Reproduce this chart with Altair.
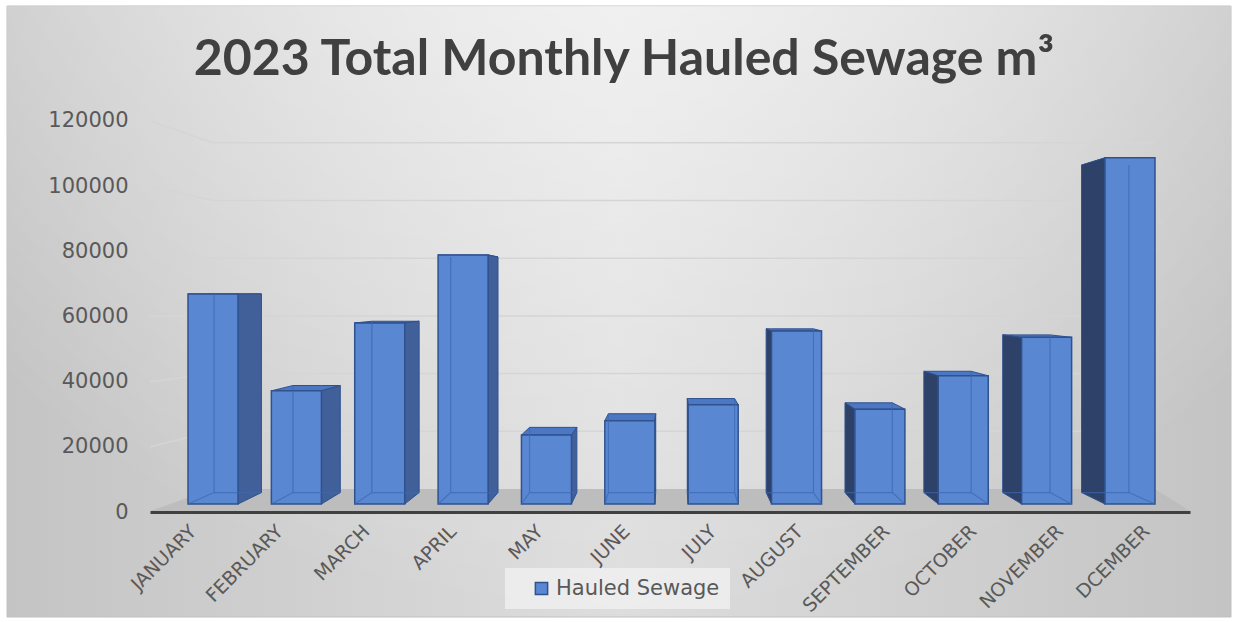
import altair as alt
import pandas as pd

# ---- chart data -------------------------------------------------------------
MONTHS = ["JANUARY", "FEBRUARY", "MARCH", "APRIL", "MAY", "JUNE", "JULY",
          "AUGUST", "SEPTEMBER", "OCTOBER", "NOVEMBER", "DCEMBER"]
VALUES = [65500, 35300, 56500, 77700, 21500, 26000, 31000,
          54000, 29600, 40000, 52000, 108000]
SERIES = "Hauled Sewage"
Y_TICKS = [0, 20000, 40000, 60000, 80000, 100000, 120000]
TITLE = "2023 Total Monthly Hauled Sewage m\u00b3"

# ---- layout -----------------------------------------------------------------
W, H = 1040, 412
PAD = {"left": 150, "top": 100, "right": 48, "bottom": 110}

X_DOMAIN = [-0.756, 11.72]          # month index scale (front faces centred on i)

BAR_UPP, BAR_ZERO = 312, 8          # m3 per pixel, lift of bar base above floor
BAR_DOMAIN = [-BAR_ZERO * BAR_UPP, (H - BAR_ZERO) * BAR_UPP]
AXIS_UPP = 306.9                    # value-axis labels on the front edge
AXIS_DOMAIN = [0, H * AXIS_UPP]
GRID_UPP, GRID_ZERO = 346.6, 23     # back wall
GRID_DOMAIN = [-GRID_ZERO * GRID_UPP, (H - GRID_ZERO) * GRID_UPP]

HALF = 0.3                          # half width of a column's front face
VP_X, VP_V, S = 5.5, 66144, 0.054   # vanishing point and depth factor

FRONT = "#5A87D2"
TOP = "#4C77C2"
SIDE_L = "#41609A"
SIDE_R = "#2D4169"
EDGE = "#2F528F"
TEXT = "#595959"
FONT = "DejaVu Sans"

# ---- 3-D column geometry derived from the values --------------------------
front_rows, side_rows, top_rows, edge_rows = [], [], [], []
for i, (m, v) in enumerate(zip(MONTHS, VALUES)):
    xl, xr = i - HALF, i + HALF
    bxl, bxr = xl + S * (VP_X - xl), xr + S * (VP_X - xr)
    bvt, bvb = v + S * (VP_V - v), S * VP_V
    front_rows.append({"month": m, "series": SERIES, "v": v, "xl": xl, "xr": xr})
    if i < VP_X:   # right-hand side visible
        side_rows += [{"month": m, "x": xr, "top": v, "bot": 0, "shade": SIDE_L},
                      {"month": m, "x": bxr, "top": bvt, "bot": bvb, "shade": SIDE_L}]
        top_rows += [{"month": m, "x": xl, "top": v, "bot": v},
                     {"month": m, "x": bxl, "top": bvt, "bot": v},
                     {"month": m, "x": xr, "top": bvt, "bot": v},
                     {"month": m, "x": bxr, "top": bvt, "bot": bvt}]
        hx, fx = bxl, xl
    else:          # left-hand side visible
        side_rows += [{"month": m, "x": bxl, "top": bvt, "bot": bvb, "shade": SIDE_R},
                      {"month": m, "x": xl, "top": v, "bot": 0, "shade": SIDE_R}]
        top_rows += [{"month": m, "x": bxl, "top": bvt, "bot": bvt},
                     {"month": m, "x": xl, "top": bvt, "bot": v},
                     {"month": m, "x": bxr, "top": bvt, "bot": v},
                     {"month": m, "x": xr, "top": v, "bot": v}]
        hx, fx = bxr, xr
    # hidden edges that show through the glassy columns
    edge_rows += [{"x": hx, "x2": hx, "y": bvt, "y2": bvb},
                  {"x": bxl, "x2": bxr, "y": bvb, "y2": bvb},
                  {"x": fx, "x2": hx, "y": 0, "y2": bvb}]

front_df = pd.DataFrame(front_rows)
side_df = pd.DataFrame(side_rows)
top_df = pd.DataFrame(top_rows)
edge_df = pd.DataFrame(edge_rows)

xs = alt.Scale(domain=X_DOMAIN, nice=False, zero=False)
bar_y = alt.Scale(domain=BAR_DOMAIN, nice=False, zero=False)
grid_y = alt.Scale(domain=GRID_DOMAIN, nice=False, zero=False)

# ---- background panel -------------------------------------------------------
one = pd.DataFrame({"k": [0]})
panel = dict(x=alt.value(-143), x2=alt.value(1081), y=alt.value(-94), y2=alt.value(517))
bg = alt.Chart(one).mark_rect(
    fill=alt.LinearGradient(
        gradient="linear", x1=0, x2=1, y1=0, y2=0,
        stops=[alt.GradientStop(offset=0, color="#C4C4C4"),
               alt.GradientStop(offset=0.5, color="#DDDDDD"),
               alt.GradientStop(offset=1, color="#C4C4C4")]),
    stroke="#C0C0C0", strokeWidth=1,
).encode(**panel)
glow = alt.Chart(one).mark_rect(
    fill=alt.RadialGradient(
        gradient="radial", x1=0.5, y1=0.0, r1=0, x2=0.5, y2=0.0, r2=0.75,
        stops=[alt.GradientStop(offset=0, color="rgba(255,255,255,0.85)"),
               alt.GradientStop(offset=1, color="rgba(255,255,255,0)")]),
).encode(**panel)

# ---- back wall, side wall and floor -----------------------------------------
grid_df = pd.DataFrame({"t": Y_TICKS[1:]})
# where each label's height on the front edge meets the left wall
grid_df["wall"] = (grid_df["t"] / AXIS_UPP - GRID_ZERO) * GRID_UPP
grid_df["x0"], grid_df["x1"], grid_df["x2"] = X_DOMAIN[0], 0.0, 11.30

front_edge = -(GRID_ZERO - 1) * GRID_UPP
floor_df = pd.DataFrame({"x": [X_DOMAIN[0], 0.0, 11.30, X_DOMAIN[1]],
                         "top": [front_edge, 0, 0, front_edge],
                         "bot": [front_edge] * 4})

back_lines = alt.Chart(grid_df).mark_rule(color="#D5D5D5", strokeWidth=1.5).encode(
    x=alt.X("x1:Q", scale=xs, axis=None), x2="x2:Q",
    y=alt.Y("t:Q", scale=grid_y, axis=None))
side_lines = alt.Chart(grid_df).mark_rule(color="#D5D5D5", strokeWidth=1.5).encode(
    x=alt.X("x0:Q", scale=xs, axis=None), x2="x1:Q",
    y=alt.Y("wall:Q", scale=grid_y, axis=None), y2="t:Q")
floor = alt.Chart(floor_df).mark_area(color="#BDBDBD").encode(
    x=alt.X("x:Q", scale=xs, axis=None),
    y=alt.Y("top:Q", scale=grid_y, axis=None), y2="bot:Q")
walls = alt.layer(back_lines, side_lines, floor)

# ---- axes (labels along the front edge) ------------------------------------
axis_df = pd.DataFrame({"month": MONTHS, "z": 0})
axes = alt.Chart(axis_df).mark_point(opacity=0).encode(
    x=alt.X("month:N", sort=MONTHS, title=None,
            scale=alt.Scale(type="band", paddingInner=0, paddingOuter=0),
            axis=alt.Axis(labelAngle=-45, labelAlign="right", labelBaseline="middle",
                          labelPadding=16, ticks=False, domainColor="#404040",
                          domainWidth=3, labelFont=FONT, labelFontSize=19,
                          labelColor=TEXT, grid=False, zindex=2)),
    y=alt.Y("z:Q", title=None, scale=alt.Scale(domain=AXIS_DOMAIN, nice=False, zero=False),
            axis=alt.Axis(orient="left", values=Y_TICKS, format="d", ticks=False,
                          domain=False, grid=False, labelPadding=22, labelFont=FONT,
                          labelFontSize=21, labelColor=TEXT, zindex=2)),
)

# ---- columns ----------------------------------------------------------------
tops = alt.Chart(top_df).mark_area(color=TOP, stroke=EDGE, strokeWidth=1).encode(
    x=alt.X("x:Q", scale=xs, axis=None),
    y=alt.Y("top:Q", scale=bar_y, axis=None), y2="bot:Q", detail="month:N")
sides = alt.Chart(side_df).mark_area(stroke=EDGE, strokeWidth=1).encode(
    x=alt.X("x:Q", scale=xs, axis=None),
    y=alt.Y("top:Q", scale=bar_y, axis=None), y2="bot:Q",
    fill=alt.Fill("shade:N", scale=None), detail="month:N")
fronts = alt.Chart(front_df).mark_rect(stroke=EDGE, strokeWidth=1.5).encode(
    x=alt.X("xl:Q", scale=xs, axis=None), x2="xr:Q",
    y=alt.Y("v:Q", scale=bar_y, axis=None), y2=alt.datum(0),
    color=alt.Color("series:N", scale=alt.Scale(range=[FRONT]),
                    legend=alt.Legend(title=None, orient="none", legendX=355, legendY=468,
                                      symbolType="square", symbolSize=150,
                                      symbolStrokeColor=EDGE, symbolStrokeWidth=1.5,
                                      symbolOffset=16, labelFont=FONT, labelFontSize=21,
                                      labelColor=TEXT, padding=10, labelLimit=500,
                                      labelExpr="datum.label + '      '",
                                      fillColor="rgba(242,242,242,0.75)")))
edges = alt.Chart(edge_df).mark_rule(color="#3D66B0", opacity=0.7, strokeWidth=1.2).encode(
    x=alt.X("x:Q", scale=xs, axis=None), x2="x2:Q",
    y=alt.Y("y:Q", scale=bar_y, axis=None), y2="y2:Q")
columns = alt.layer(tops, sides, fronts, edges)

# ---- title ------------------------------------------------------------------
title = alt.Chart(pd.DataFrame({"t": [TITLE]})).mark_text(
    font="Lato", fontWeight="bold", fontSize=50, color="#404040",
    align="center", baseline="alphabetic",
).encode(x=alt.value(474), y=alt.value(-25), text="t:N")

chart = alt.layer(bg, glow, walls, axes, columns, title).resolve_scale(
    x="independent", y="independent"
).properties(
    width=W, height=H, padding=PAD, autosize="none", background="white"
).configure_view(stroke=None)

chart.save("out.html", embed_options={"renderer": "svg", "actions": False})
